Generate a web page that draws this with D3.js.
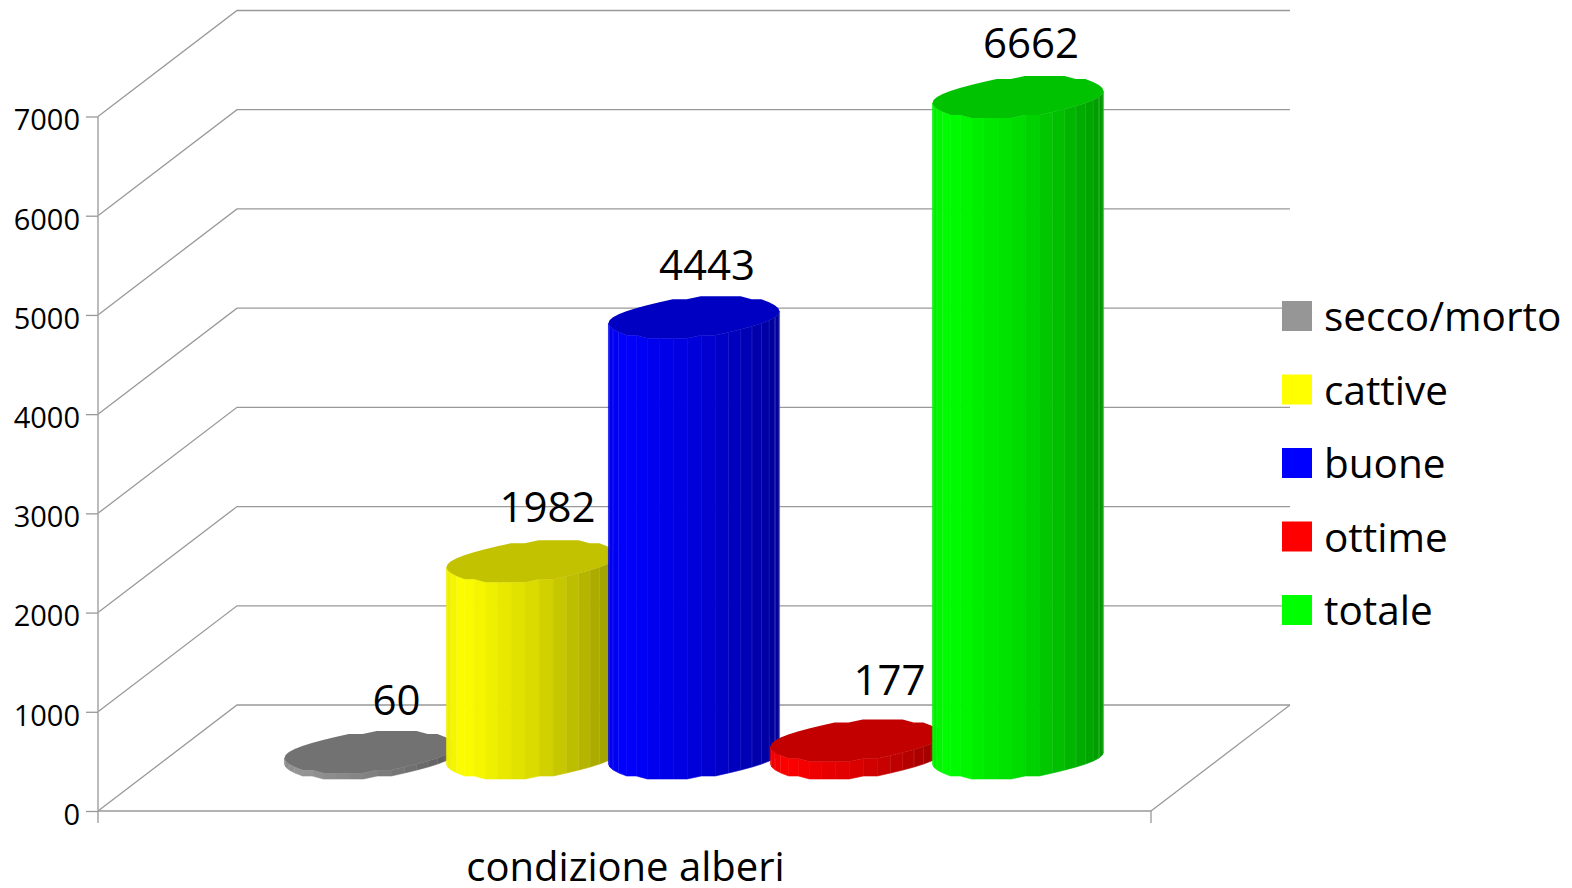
<!DOCTYPE html>
<html>
<head>
<meta charset="utf-8">
<script src="https://d3js.org/d3.v7.min.js"></script>
<style>
  body { margin: 0; background: #fff; }
  svg { display: block; }
  text { font-family: "Open Sans", sans-serif; fill: #000; }
</style>
</head>
<body>
<svg></svg>
<script>
// Data
const categories = ["secco/morto", "cattive", "buone", "ottime", "totale"];
const values = [60, 1982, 4443, 177, 6662];
const colors = ["#969696", "#ffff00", "#0000ff", "#ff0000", "#00ff00"];
const yTicks = [0, 1000, 2000, 3000, 4000, 5000, 6000, 7000];
const axisTitle = "condizione alberi";

// Value labels are placed by hand in the original, so each has its own nudge
const labelNudge = [[26.5, -37], [15.5, -39.5], [13, -37], [33.5, -45], [13, -39]];

const width = 1572, height = 888;
const svg = d3.select("svg").attr("width", width).attr("height", height);

const x = d3.scaleBand().domain(categories).range([98, 1151]).paddingInner(0).paddingOuter(0.75);
const y = d3.scaleLinear().domain([0, 7000]).range([811, 116.5]);

// Depth of the 3D box
const depthX = 139, depthY = -106;
const gridColor = "#999";

// Walls
const grid = svg.append("g").attr("stroke", gridColor).attr("stroke-width", 1.3).attr("fill", "none");
grid.selectAll("path.wall")
  .data(yTicks)
  .enter()
  .append("path")
  .attr("class", "wall")
  .attr("d", (d) => `M${x.range()[0]},${y(d)}L${x.range()[0] + depthX},${y(d) + depthY}H${x.range()[1] + depthX}`);
grid.append("path")
  .attr("d", `M${x.range()[1]},${y(0)}L${x.range()[1] + depthX},${y(0) + depthY}`);

// Axes
const yAxis = svg.append("g")
  .attr("transform", `translate(${x.range()[0]},0)`)
  .call(d3.axisLeft(y).tickValues(yTicks).tickSize(12).tickSizeOuter(0).tickPadding(6).tickFormat(d3.format("d")));
yAxis.selectAll("text").style("font-size", "29px").attr("dy", "0.46em");
yAxis.selectAll("line, path").attr("stroke", gridColor).attr("stroke-width", 1.3);
yAxis.select(".domain").attr("d", `M0,${y(7000)}V${y(0) + 12}`).attr("stroke", "#aaa").attr("stroke-width", 1.6);

svg.append("path")
  .attr("d", `M${x.range()[0]},${y(0)}H${x.range()[1]}V${y(0) + 12}`)
  .attr("fill", "none")
  .attr("stroke", gridColor)
  .attr("stroke-width", 1.3);

svg.append("text")
  .attr("x", 625.5)
  .attr("y", 881)
  .attr("text-anchor", "middle")
  .style("font-size", "40px")
  .text(axisTitle);

// Cylinders, drawn left to right so each one covers its left neighbour
const radius = 81;
const depthShare = 0.198; // half of the cylinder's depth, as a share of the box depth
const facets = 38;
const stepY = 3; // the outline of the original is stepped, not smooth
const shade = d3.scaleLinear()
  .domain([0, 0.1, 0.25, 0.5, 0.75, 1])
  .range([0.93, 1, 0.94, 0.86, 0.74, 0.6]);
const topShade = 0.76;

function darker(color, k) {
  const c = d3.rgb(color);
  return d3.rgb(c.r * k, c.g * k, c.b * k).formatHex();
}

categories.forEach((cat, i) => {
  const cx = x(cat) + x.bandwidth() / 2 + depthX / 2;
  const baseY = y(0) + depthY / 2;
  const h = y(0) - y(values[i]);
  const point = (t) => [
    cx + radius * Math.cos(t) + depthShare * depthX * Math.sin(t),
    baseY + Math.round((depthShare * depthY * Math.sin(t)) / stepY) * stepY,
  ];
  const ring = d3.range(facets).map((k) => point((k / facets) * 2 * Math.PI));
  const minX = d3.min(ring, (p) => p[0]);
  const maxX = d3.max(ring, (p) => p[0]);

  const g = svg.append("g").attr("class", "bar");

  ring.forEach((p, k) => {
    const q = ring[(k + 1) % facets];
    if (q[0] <= p[0]) return;
    const f = ((p[0] + q[0]) / 2 - minX) / (maxX - minX);
    const fill = darker(colors[i], shade(f));
    g.append("path")
      .attr("d", `M${p[0]},${p[1]}L${q[0]},${q[1]}V${q[1] - h}L${p[0]},${p[1] - h}Z`)
      .attr("fill", fill)
      .attr("stroke", fill)
      .attr("stroke-width", 0.6);
    // thin light seams show between the narrow facets at the sides
    if (f > 0.62 || f < 0.06) {
      g.append("line")
        .attr("x1", q[0])
        .attr("x2", q[0])
        .attr("y1", q[1])
        .attr("y2", q[1] - h)
        .attr("stroke", "#fff")
        .attr("stroke-opacity", 0.28)
        .attr("stroke-width", 0.9);
    }
  });

  g.append("path")
    .attr("d", d3.line()(ring.map((p) => [p[0], p[1] - h])) + "Z")
    .attr("fill", darker(colors[i], topShade));
});

// Value labels go above all the bars
categories.forEach((cat, i) => {
  svg.append("text")
    .attr("x", x(cat) + x.bandwidth() / 2 + depthX / 2 + labelNudge[i][0])
    .attr("y", y(values[i]) + depthY / 2 + labelNudge[i][1])
    .attr("text-anchor", "middle")
    .style("font-size", "42px")
    .text(values[i]);
});

// Legend
const legendY = d3.scalePoint().domain(categories).range([316, 610]);
const legend = svg.append("g");
legend.selectAll("rect")
  .data(categories)
  .enter()
  .append("rect")
  .attr("x", 1282)
  .attr("y", (d) => legendY(d) - 15)
  .attr("width", 30)
  .attr("height", 30)
  .attr("fill", (d, i) => colors[i]);
legend.selectAll("text")
  .data(categories)
  .enter()
  .append("text")
  .attr("x", 1324)
  .attr("y", (d) => legendY(d) + 15)
  .style("font-size", "40.5px")
  .text((d) => d);
</script>
</body>
</html>
